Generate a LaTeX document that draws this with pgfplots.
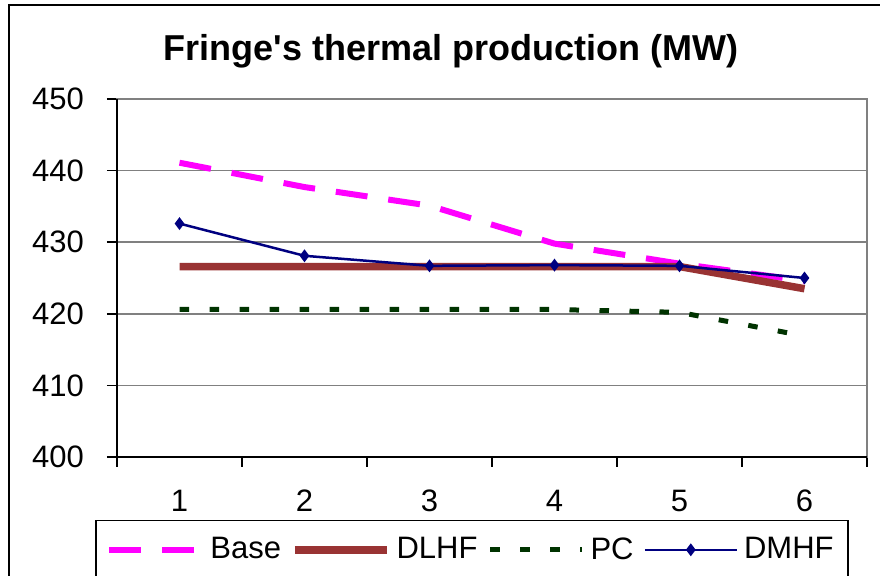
\documentclass[border=0pt]{standalone}
\usepackage{fontspec}
\setmainfont{Liberation Sans}
\usepackage{pgfplots}
\pgfplotsset{compat=1.18}

\definecolor{baseC}{RGB}{255,0,255}
\definecolor{dlhfC}{RGB}{153,51,51}
\definecolor{pcC}{RGB}{0,51,0}
\definecolor{dmhfC}{RGB}{0,0,128}
\definecolor{gridC}{RGB}{128,128,128}

\begin{document}
\begin{tikzpicture}[x=0.5pt,y=0.5pt]
\clip (0,0) rectangle (880,576);
% chart frame
\draw[black,line width=0.75pt] (9,-20) rectangle (900,571);
\begin{axis}[
  at={(58.5pt,59.5pt)}, anchor=south west,
  scale only axis, width=375pt, height=179pt,
  xmin=0.5, xmax=6.5, ymin=400, ymax=450,
  xtick={0.5,1.5,...,6.5}, xticklabels={{},{},{},{},{},{},{}},
  extra x ticks={1,2,3,4,5,6},
  extra x tick labels={1,2,3,4,5,6},
  extra x tick style={major tick length=0pt, grid=none},
  ytick={400,410,...,450},
  ymajorgrids,
  grid style={gridC, line width=0.75pt},
  axis line style={gridC, line width=0.75pt},
  tick align=outside, major tick length=5pt,
  tick style={black, line width=0.75pt},
  xtick pos=bottom, ytick pos=left,
  /pgf/number format/assume math mode=true,
  tick label style={font=\fontsize{15.5}{18}\selectfont},
  yticklabel style={anchor=east, xshift=-8pt},
  xticklabel style={anchor=center, yshift=-22pt},
  legend columns=4,
  legend style={at={(-0.028,-0.179)}, anchor=north west, draw=none,
    fill=none, font=\fontsize{15.5}{18}\selectfont,
    inner xsep=5pt, inner ysep=6pt, column sep=3pt,
    nodes={inner xsep=0pt},
    /tikz/every even column/.append style={column sep=5pt}},
  legend image code/.code={\draw[mark repeat=2,mark phase=2,#1]
    plot coordinates {(0pt,0pt) (23pt,0pt) (46pt,0pt)};},
  after end axis/.code={
    \draw[black,line width=0.75pt] (rel axis cs:0,1) -- (rel axis cs:0,0) -- (rel axis cs:1,0);
  },
]
\addplot[baseC, line width=3pt, dash pattern=on 16pt off 10.5pt] coordinates {
  (1,441.1) (2,437.7) (3,435.1) (4,429.8) (5,427.0) (6,424.6)};
\addlegendentry{Base}
\addplot[dlhfC, line width=3.75pt] coordinates {
  (1,426.6) (2,426.6) (3,426.6) (4,426.6) (5,426.6) (6,423.5)};
\addlegendentry{DLHF}
\addplot[pcC, line width=2.5pt, dash pattern=on 4.75pt off 10.25pt] coordinates {
  (1,420.6) (2,420.6) (3,420.6) (4,420.6) (5,420.2) (6,416.9)};
\addlegendentry{PC}
\addplot[dmhfC, line width=1.25pt, mark=diamond*, mark size=2.2pt,
  mark options={solid}] coordinates {
  (1,432.6) (2,428.1) (3,426.7) (4,426.8) (5,426.7) (6,425.0)};
\addlegendentry{DMHF}
\end{axis}
\node[font=\bfseries\fontsize{18}{22}\selectfont] at (451,525) {Fringe\textquotesingle s thermal production (MW)};
\draw[black,line width=0.75pt] (96,-20) rectangle (848,55.3);
\end{tikzpicture}
\end{document}
